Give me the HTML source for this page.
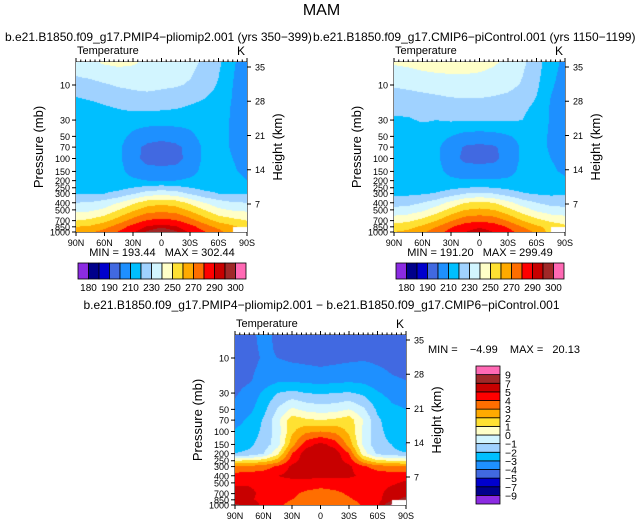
<!DOCTYPE html>
<html><head><meta charset="utf-8">
<style>
body{margin:0;background:#fff;width:643px;height:526px;overflow:hidden;position:relative;font-family:"Liberation Sans",sans-serif}
.t{position:absolute;white-space:nowrap;color:#000}
canvas{position:absolute}
svg{position:absolute;left:0;top:0}
svg text{white-space:pre}
</style></head>
<body>
<div class="t" style="left:0;width:643px;text-align:center;top:2px;font-size:16px">MAM</div>
<div class="t" style="left:5px;top:30px;font-size:12px">b.e21.B1850.f09_g17.PMIP4−pliomip2.001 (yrs 350−399)</div>
<div class="t" style="left:313px;top:30px;font-size:12px;background:transparent">b.e21.B1850.f09_g17.CMIP6−piControl.001 (yrs 1150−1199)</div>
<div class="t" style="left:0;width:643px;text-align:center;top:298px;font-size:12px">b.e21.B1850.f09_g17.PMIP4−pliomip2.001 − b.e21.B1850.f09_g17.CMIP6−piControl.001</div>
<svg id="ov" width="643" height="526"></svg>
<script>
const lats=[90,75,60,45,30,15,0,-15,-30,-45,-60,-75,-90];
const plevs=[5,10,20,30,50,70,100,150,200,250,300,400,500,700,850,1000];
const tLevels=[180,185,190,200,210,220,230,240,250,260,270,280,290,295,300];
const tLabels=[180,190,210,230,250,270,290,300];
const dLevels=[-9,-7,-5,-4,-3,-2,-1,0,1,2,3,4,5,7,9];
const colors=['#8b2be2','#00008b','#0000cd','#4169e1','#1e90ff','#00bfff','#a0d2ff','#d2f5ff','#ffffc8','#ffe132','#ffaa00','#ff6e00','#ff0000','#c80000','#a02828','#ff69b4'];
const pTicks=[10,30,50,70,100,150,200,250,300,400,500,700,850,1000];
const zTicks=[7,14,21,28,35];
const latTicks=[90,60,30,0,-30,-60,-90];
const latTickLabels=['90N','60N','30N','0','30S','60S','90S'];
const N=NaN;
const tPlio=[
[236,238,241,242,241,238,236,235,233,228,222,211,206],
[226,227,229,231,232,233,232,231,229,225,219,210,205],
[215,217,219,221,223,223,222,221,219,217,215,209,204],
[213,213,213,214,214,214,214,214,213,213,213,209,205],
[213,213,213,213,208,204,203,204,208,213,213,209,206],
[213,213,213,212,203,198,196,198,203,212,213,209,206],
[214,214,213,212,203,197,196,197,203,212,213,210,207],
[214,214,214,213,206,203,203,203,206,213,214,211,208],
[215,215,215,215,212,210,210,210,212,215,215,213,210],
[216,216,216,217,220,223,225,223,220,217,216,216,215],
[219,219,220,223,229,235,237,235,229,223,220,219,220],
[230,231,234,240,248,255,257,255,248,240,234,231,230],
[237,238,242,250,258,265,267,265,258,250,242,239,238],
[250,252,257,265,274,281,283,281,274,265,257,253,250],
[260,262,267,275,284,291,294,291,284,275,267,262,256],
[266,268,274,281,289,296,300,296,289,281,274,262,N]];
const tPi=[
[241,242,244,245,245,244,243,241,238,232,225,213,208],
[231,232,233,234,235,236,236,235,233,229,222,211,207],
[222,223,224,225,226,226,226,225,224,222,218,209,206],
[219,219,221,220,221,221,221,221,221,220,216,209,206],
[214,214,214,214,210,206,205,206,209,213,213,209,207],
[214,214,213,212,204,199,198,199,203,212,213,209,207],
[214,214,213,212,203,198,197,198,203,212,213,210,208],
[214,214,214,213,207,204,204,204,206,213,214,211,209],
[215,215,215,215,212,211,211,211,212,215,215,213,211],
[216,216,216,216,218,220,221,220,218,216,216,216,215],
[218,218,219,221,225,230,232,230,225,221,219,218,219],
[226,227,230,235,243,250,252,250,243,235,230,227,226],
[233,234,238,245,253,260,262,260,253,245,238,234,233],
[246,248,253,260,269,276,278,276,269,260,253,248,246],
[255,257,262,270,279,286,289,286,279,270,262,257,252],
[260,262,268,276,284,290,294,290,284,276,268,256,N]];
const tDiff=[
[-4.5,-4.3,-3.7,-4.2,-4.5,-4.6,-4.6,-4.6,-4.5,-4.4,-4.3,-4.4,-4.5],
[-4.5,-4.3,-3.9,-4.0,-4.2,-4.3,-4.4,-4.3,-4.2,-4.1,-4.2,-4.3,-4.4],
[-4.3,-4.1,-3.6,-3.2,-3.2,-3.3,-3.4,-3.3,-3.2,-3.3,-3.6,-3.9,-4.0],
[-4.1,-3.7,-2.8,-2.0,-1.7,-2.0,-2.1,-2.0,-1.9,-2.2,-2.9,-3.3,-3.5],
[-3.8,-3.3,-2.3,-0.9,0.2,-0.3,-0.5,-0.4,0.0,-0.8,-2.2,-2.8,-3.0],
[-3.4,-2.8,-1.9,-0.3,1.6,1.2,1.0,1.2,1.6,0.0,-1.8,-2.6,-2.8],
[-2.9,-2.5,-1.8,-0.5,1.8,2.8,3.0,2.8,1.8,-0.2,-1.7,-2.4,-2.6],
[-2.4,-2.2,-1.6,-0.4,2.6,4.6,5.3,4.6,2.6,-0.2,-1.7,-2.0,-3.1],
[-2.0,-1.8,-1.0,0.8,4.0,5.6,5.8,5.6,4.0,0.5,-1.2,-1.6,-1.8],
[1.0,1.2,1.5,2.5,4.6,5.6,5.8,5.6,4.6,2.4,1.2,1.0,0.8],
[3.2,3.3,3.5,4.2,5.2,5.6,5.7,5.6,5.2,4.2,3.5,3.3,3.2],
[4.4,4.5,4.6,5.0,5.3,5.4,5.3,5.3,5.2,4.8,4.6,4.5,4.5],
[4.9,4.9,4.8,4.6,4.6,4.5,4.3,4.4,4.5,4.6,4.6,4.8,5.2],
[5.3,5.2,4.8,4.5,4.2,3.8,3.7,3.8,4.1,4.4,4.6,5.6,6.0],
[5.4,5.2,4.6,4.3,4.0,3.7,3.6,3.7,3.9,4.2,4.5,6.2,8.0],
[7.5,6.2,4.5,4.2,3.7,3.4,3.3,3.4,3.6,4.1,4.5,9.5,N]];

const NS='http://www.w3.org/2000/svg';
const ov=document.getElementById('ov');
function el(tag,attrs){const e=document.createElementNS(NS,tag);for(const k in attrs)e.setAttribute(k,attrs[k]);ov.appendChild(e);return e;}
function txt(x,y,s,size,anchor,name){const e=el('text',{x:x,y:y,'font-size':size,'text-anchor':anchor||'start','font-family':'Liberation Sans, sans-serif'});e.textContent=s;


return e;}

function panel(grid,levels,L,T,name,minmax,mmPos){
  const W=171,H=170;
  const xOf=lat=>L+(90-lat)/180*W;
  const yOf=p=>T+H-(73.5*Math.log10(1000/p));
  const cv=document.createElement('canvas');cv.width=W;cv.height=H;
  cv.style.left=L+'px';cv.style.top=T+'px';
  
  
  document.body.appendChild(cv);
  const ctx=cv.getContext('2d');const img=ctx.createImageData(W,H);
  const lp=plevs.map(p=>Math.log10(p));
  const rgb=colors.map(c=>[parseInt(c.substr(1,2),16),parseInt(c.substr(3,2),16),parseInt(c.substr(5,2),16)]);
  for(let j=0;j<H;j++){
    const y=T+j+0.5;
    let lg=3-(T+H-y)/73.5;
    if(lg<lp[0])lg=lp[0];
    let k=0;while(k<lp.length-2&&lg>lp[k+1])k++;
    const fy=Math.min(1,Math.max(0,(lg-lp[k])/(lp[k+1]-lp[k])));
    for(let i=0;i<W;i++){
      const lat=90-(i+0.5)/W*180;
      const fi=(90-lat)/15;let a=Math.min(11,Math.floor(fi));const fx=fi-a;
      const v=(grid[k][a]*(1-fx)+grid[k][a+1]*fx)*(1-fy)+(grid[k+1][a]*(1-fx)+grid[k+1][a+1]*fx)*fy;
      const o=(j*W+i)*4;
      if(isNaN(v)){img.data[o]=255;img.data[o+1]=255;img.data[o+2]=255;img.data[o+3]=255;continue;}
      let c=0;while(c<levels.length&&v>=levels[c])c++;
      const col=rgb[c];img.data[o]=col[0];img.data[o+1]=col[1];img.data[o+2]=col[2];img.data[o+3]=255;
    }
  }
  ctx.putImageData(img,0,0);
  const fr=el('rect',{x:L,y:T,width:W,height:H,fill:'none',stroke:'#000','stroke-width':1});
  
  
  pTicks.forEach(p=>{const y=yOf(p);
    const tk=el('line',{x1:L-4,x2:L,y1:y,y2:y,stroke:'#000'});
    
    
    txt(L-6,y+3.5,String(p),9,'end',name+'-pressure-label');});
  zTicks.forEach(z=>{const y=T+142-(z-7)*4.893;
    const tk=el('line',{x1:L+W,x2:L+W+4,y1:y,y2:y,stroke:'#000'});
    
    
    txt(L+W+8,y+3.5,String(z),9,'start',name+'-height-label');});
  latTicks.forEach((lt,i)=>{const x=xOf(lt);
    const tk=el('line',{x1:x,x2:x,y1:T+H,y2:T+H+4,stroke:'#000'});
    
    
    txt(x,T+H+14,latTickLabels[i],9,'middle',name+'-lat-label');});
  for(let lt=90;lt>=-90;lt-=5){const x=xOf(lt);
    const tk=el('line',{x1:x,x2:x,y1:T-(lt%30===0?4:2.5),y2:T,stroke:'#000'});
    
    }
  txt(L+1,T-8,'Temperature',11,'start',name+'-variable-label');
  txt(L+W-2,T-7,'K',12,'end',name+'-units-label');
  const yl=txt(0,0,'Pressure (mb)',13,'middle',name+'-y-axis-title');
  yl.setAttribute('transform','translate('+(L-33)+','+(T+85)+') rotate(-90)');
  const hl=txt(0,0,'Height (km)',13,'middle',name+'-height-axis-title');
  hl.setAttribute('transform','translate('+(L+W+35)+','+(T+85)+') rotate(-90)');
  txt(mmPos[0],mmPos[1],minmax,11,mmPos[2],name+'-min-max');
}
function hbar(L,T,name){
  const w=10.5;
  colors.forEach((c,i)=>{const r=el('rect',{x:L+i*w,y:T,width:w,height:16,fill:c,stroke:'#000','stroke-width':0.8});
    
    });
  tLabels.forEach(v=>{const k=tLevels.indexOf(v);txt(L+w*(k+1),T+28,String(v),10,'middle',name+'-label');});
}
function vbar(L,T,name){
  const h=8.625;
  colors.forEach((c,i)=>{const r=el('rect',{x:L,y:T+(15-i)*h,width:24,height:h,fill:c,stroke:'#000','stroke-width':0.8});
    
    });
  dLevels.forEach((v,k)=>{const y=T+(15-k)*h;txt(L+29,y+4,String(v).replace('-','−'),10.5,'start',name+'-label');});
}
panel(tPlio,tLevels,76,62,'panel-pliomip','MIN = 193.44   MAX = 302.44',[162,256,'middle']);
panel(tPi,tLevels,394,62,'panel-picontrol','MIN = 191.20   MAX = 299.49',[480,256,'middle']);
panel(tDiff,dLevels,235,335,'panel-difference','MIN =    −4.99    MAX =   20.13',[428,353,'start']);
hbar(78,263,'colorbar-pliomip');
hbar(396,263,'colorbar-picontrol');
vbar(476,366,'colorbar-difference');
</script>
</body></html>
